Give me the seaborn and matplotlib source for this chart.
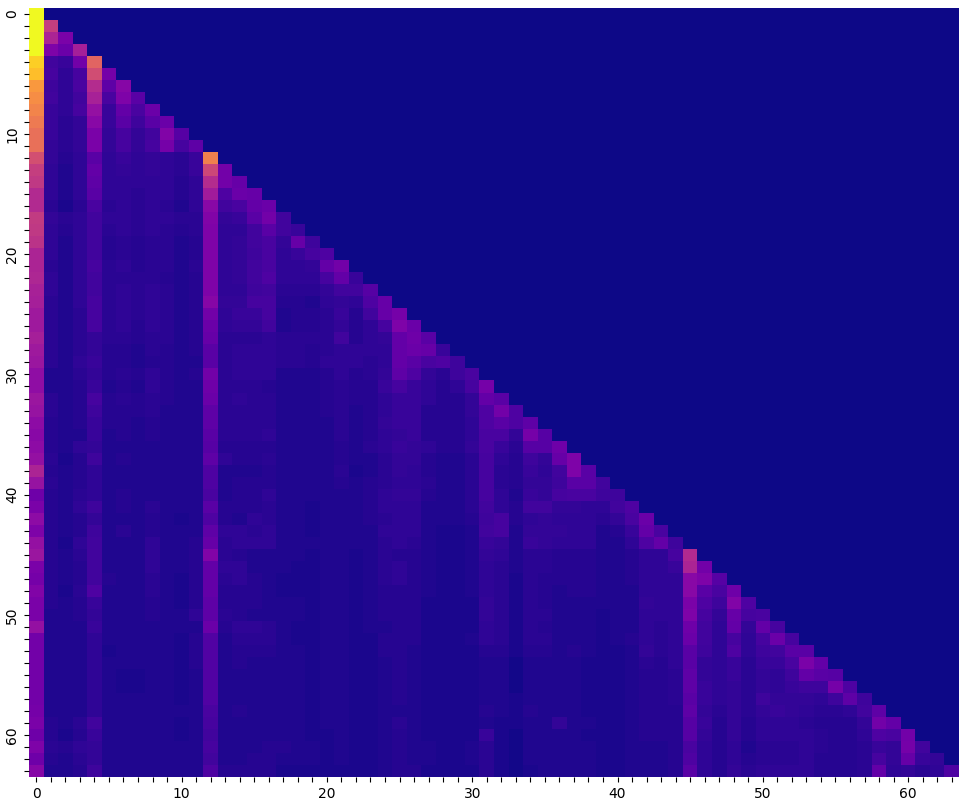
#!/usr/bin/env python3

import numpy as np
import matplotlib
matplotlib.use('Agg')
import matplotlib.pyplot as plt
import seaborn as sns

SIZE = 64

# columns 0-19, one list per row (rows stop at the diagonal)
left_block = [
    [100],
    [100, 47],
    [100, 38, 24],
    [100, 25, 20, 36],
    [90, 10, 8, 22, 60],
    [86, 11, 6, 11, 52, 23],
    [76, 9, 6, 12, 41, 17, 27],
    [73, 10, 6, 10, 37, 12, 25, 16],
    [70, 8, 6, 11, 31, 8, 18, 12, 20],
    [67, 8, 5, 7, 28, 8, 16, 9, 16, 20],
    [64, 8, 5, 7, 24, 7, 11, 7, 10, 26, 15],
    [64, 7, 5, 7, 24, 7, 11, 7, 11, 23, 11, 17],
    [53, 7, 4, 6, 16, 6, 8, 6, 7, 6, 5, 8, 69],
    [47, 6, 3, 6, 18, 6, 7, 6, 7, 6, 5, 8, 50, 22],
    [45, 6, 3, 6, 17, 6, 6, 6, 6, 6, 4, 6, 41, 22, 19],
    [40, 6, 3, 6, 16, 6, 6, 5, 6, 6, 4, 6, 35, 13, 20, 19],
    [40, 5, 2, 5, 12, 5, 6, 5, 6, 5, 3, 6, 28, 10, 12, 18, 20],
    [46, 7, 5, 6, 10, 6, 6, 5, 6, 6, 5, 5, 26, 7, 8, 16, 22, 10],
    [45, 6, 4, 6, 10, 5, 6, 5, 6, 5, 4, 5, 25, 6, 6, 10, 16, 10, 8],
    [43, 6, 3, 6, 10, 4, 5, 4, 5, 5, 3, 4, 25, 6, 7, 10, 12, 7, 19, 9],
    [38, 6, 3, 6, 10, 4, 5, 4, 5, 5, 3, 4, 25, 6, 7, 9, 12, 6, 8, 11],
    [38, 5, 3, 6, 11, 5, 6, 4, 5, 5, 3, 5, 25, 6, 7, 10, 12, 6, 6, 7],
    [39, 6, 3, 6, 10, 5, 5, 5, 5, 4, 3, 4, 25, 6, 7, 10, 13, 6, 6, 6],
    [37, 6, 3, 6, 10, 5, 6, 5, 6, 5, 3, 4, 25, 6, 6, 9, 10, 5, 5, 5],
    [36, 5, 3, 6, 11, 5, 6, 5, 6, 5, 3, 4, 27, 7, 7, 11, 11, 4, 4, 3],
    [34, 5, 3, 5, 11, 5, 6, 5, 6, 5, 3, 4, 22, 6, 8, 8, 11, 3, 4, 4],
    [34, 5, 3, 5, 11, 5, 6, 4, 6, 5, 3, 4, 20, 6, 7, 7, 10, 3, 4, 4],
    [36, 5, 3, 5, 7, 5, 5, 4, 5, 5, 3, 4, 19, 5, 5, 5, 6, 5, 5, 5],
    [34, 5, 3, 5, 7, 4, 4, 3, 5, 4, 3, 4, 16, 5, 6, 6, 6, 5, 5, 4],
    [33, 5, 3, 6, 8, 4, 4, 3, 4, 4, 3, 3, 16, 5, 6, 6, 6, 5, 5, 4],
    [30, 3, 3, 5, 7, 4, 5, 4, 6, 4, 3, 4, 22, 5, 6, 6, 6, 3, 3, 3],
    [30, 3, 3, 4, 8, 3, 4, 3, 6, 4, 3, 3, 21, 5, 5, 5, 4, 3, 3, 3],
    [33, 5, 3, 4, 11, 4, 5, 4, 5, 4, 3, 3, 20, 5, 6, 5, 5, 3, 3, 3],
    [32, 5, 3, 4, 9, 4, 4, 4, 5, 3, 3, 3, 17, 5, 5, 5, 5, 3, 3, 3],
    [29, 4, 3, 4, 8, 4, 4, 3, 4, 3, 3, 3, 17, 5, 5, 5, 5, 3, 3, 3],
    [28, 4, 3, 3, 8, 3, 4, 3, 4, 3, 3, 3, 16, 5, 5, 5, 6, 3, 3, 3],
    [29, 4, 3, 6, 7, 3, 3, 3, 3, 3, 3, 3, 15, 4, 4, 4, 4, 3, 3, 3],
    [31, 5, 2, 4, 9, 3, 4, 3, 3, 3, 3, 3, 17, 6, 4, 4, 5, 3, 3, 3],
    [38, 4, 3, 4, 6, 3, 3, 3, 3, 3, 3, 3, 13, 3, 3, 3, 4, 3, 3, 3],
    [32, 5, 3, 4, 6, 3, 3, 3, 3, 3, 3, 3, 13, 3, 4, 4, 4, 3, 3, 3],
    [21, 4, 3, 5, 6, 3, 4, 3, 3, 3, 3, 3, 12, 3, 4, 4, 6, 3, 3, 3],
    [24, 4, 3, 6, 9, 3, 4, 3, 5, 3, 3, 3, 16, 4, 4, 4, 5, 3, 3, 2],
    [29, 4, 3, 4, 7, 3, 3, 3, 4, 3, 2, 3, 13, 4, 3, 6, 5, 3, 3, 2],
    [25, 4, 3, 4, 9, 3, 5, 3, 4, 3, 3, 3, 17, 6, 6, 5, 6, 3, 3, 2],
    [31, 4, 2, 6, 10, 3, 3, 3, 6, 3, 3, 4, 19, 5, 6, 6, 6, 3, 3, 3],
    [33, 4, 3, 5, 10, 3, 3, 3, 6, 3, 3, 4, 26, 5, 4, 3, 3, 3, 3, 2],
    [24, 4, 3, 4, 10, 3, 3, 3, 6, 3, 3, 4, 18, 6, 6, 3, 3, 3, 2, 2],
    [23, 4, 3, 4, 10, 4, 3, 3, 5, 3, 2, 4, 18, 5, 6, 4, 3, 2, 2, 2],
    [26, 4, 2, 5, 13, 3, 3, 3, 5, 3, 2, 4, 18, 4, 4, 4, 3, 2, 2, 2],
    [24, 4, 3, 4, 8, 3, 3, 3, 4, 3, 2, 4, 17, 4, 4, 4, 3, 3, 3, 2],
    [24, 3, 3, 4, 7, 3, 3, 3, 4, 3, 3, 6, 17, 5, 4, 3, 3, 3, 3, 2],
    [31, 3, 3, 3, 8, 3, 3, 3, 3, 3, 3, 3, 20, 4, 6, 6, 5, 3, 2, 2],
    [22, 3, 3, 3, 6, 3, 3, 3, 3, 3, 2, 4, 14, 3, 5, 5, 5, 3, 2, 2],
    [22, 3, 3, 3, 6, 2, 3, 3, 3, 3, 2, 4, 14, 3, 4, 4, 4, 3, 3, 2],
    [22, 3, 3, 3, 6, 3, 3, 3, 3, 3, 2, 4, 14, 3, 4, 3, 3, 3, 3, 2],
    [22, 3, 3, 3, 6, 3, 2, 2, 3, 3, 2, 3, 14, 3, 3, 3, 3, 3, 3, 2],
    [22, 3, 3, 3, 6, 3, 2, 2, 3, 3, 2, 3, 14, 3, 3, 3, 3, 3, 3, 2],
    [22, 3, 3, 3, 6, 3, 3, 3, 3, 3, 2, 3, 14, 3, 3, 3, 3, 3, 3, 2],
    [23, 3, 3, 3, 6, 3, 3, 3, 3, 3, 3, 3, 12, 3, 4, 3, 3, 3, 3, 2],
    [24, 4, 3, 5, 10, 3, 3, 3, 3, 3, 2, 3, 11, 3, 3, 3, 3, 3, 3, 2],
    [21, 4, 2, 4, 8, 3, 3, 3, 3, 3, 2, 3, 10, 3, 3, 3, 3, 3, 3, 2],
    [25, 5, 4, 6, 7, 3, 3, 3, 3, 3, 3, 3, 11, 3, 3, 3, 4, 4, 3, 3],
    [21, 4, 3, 5, 7, 3, 3, 3, 3, 3, 3, 3, 10, 3, 3, 4, 4, 3, 3, 3],
    [27, 3, 3, 4, 9, 3, 3, 3, 3, 3, 3, 3, 13, 4, 4, 4, 4, 2, 2, 2],
]

# columns 20-41 for rows 20-63
mid_block = [
    [13],
    [18, 22],
    [11, 18, 8],
    [7, 10, 10, 15],
    [6, 7, 6, 13, 19],
    [5, 8, 4, 10, 19, 23],
    [5, 7, 4, 6, 11, 25, 20],
    [5, 10, 4, 6, 7, 18, 21, 16],
    [5, 6, 6, 6, 6, 18, 20, 19, 8],
    [6, 6, 6, 5, 6, 18, 16, 12, 13, 9],
    [4, 6, 4, 5, 7, 17, 13, 7, 5, 9, 12],
    [4, 5, 4, 4, 8, 11, 8, 6, 4, 6, 11, 23],
    [4, 5, 4, 4, 6, 8, 8, 6, 4, 4, 7, 18, 16],
    [4, 5, 3, 4, 6, 8, 8, 4, 4, 4, 7, 13, 22, 13],
    [3, 5, 3, 4, 7, 8, 8, 4, 4, 4, 6, 13, 16, 13, 17],
    [3, 5, 3, 4, 6, 7, 8, 4, 4, 4, 6, 12, 12, 7, 23, 15],
    [3, 4, 3, 5, 6, 8, 7, 6, 4, 4, 7, 12, 8, 5, 15, 15, 21],
    [3, 4, 3, 3, 5, 7, 7, 4, 3, 3, 5, 11, 6, 4, 9, 7, 19, 25],
    [3, 5, 2, 3, 5, 7, 6, 4, 3, 3, 5, 11, 5, 4, 8, 6, 10, 25, 16],
    [3, 4, 3, 4, 5, 6, 6, 5, 3, 3, 5, 11, 5, 4, 7, 7, 9, 16, 16, 10],
    [3, 3, 3, 4, 6, 7, 7, 4, 3, 3, 5, 11, 6, 3, 8, 7, 11, 12, 12, 9, 9],
    [3, 3, 3, 4, 6, 6, 6, 3, 3, 3, 5, 10, 6, 4, 10, 10, 7, 7, 6, 6, 10, 13],
    [3, 3, 3, 4, 5, 6, 6, 3, 3, 3, 4, 9, 11, 4, 6, 7, 6, 6, 6, 5, 7, 12],
    [3, 3, 3, 3, 6, 6, 6, 3, 2, 2, 3, 10, 11, 3, 7, 7, 7, 6, 6, 3, 4, 8],
    [3, 3, 3, 3, 5, 6, 5, 3, 2, 2, 3, 8, 7, 3, 8, 7, 6, 6, 6, 3, 3, 6],
    [3, 3, 2, 3, 5, 4, 4, 3, 2, 2, 3, 7, 6, 3, 5, 5, 4, 4, 4, 3, 3, 4],
    [3, 3, 2, 3, 5, 6, 4, 3, 2, 2, 3, 6, 5, 3, 5, 5, 4, 4, 4, 3, 3, 4],
    [3, 3, 2, 3, 5, 6, 4, 3, 2, 2, 3, 6, 5, 2, 5, 4, 4, 4, 4, 3, 3, 4],
    [3, 3, 2, 3, 4, 4, 4, 3, 2, 2, 3, 6, 5, 2, 5, 4, 3, 4, 4, 3, 3, 3],
    [3, 3, 2, 3, 4, 4, 4, 2, 2, 2, 2, 7, 5, 2, 5, 4, 3, 3, 3, 3, 3, 3],
    [3, 3, 2, 3, 4, 4, 4, 2, 2, 2, 2, 7, 5, 2, 5, 5, 3, 3, 3, 2, 3, 3],
    [3, 3, 2, 3, 3, 4, 4, 2, 2, 2, 2, 6, 5, 2, 5, 4, 3, 3, 3, 2, 3, 3],
    [3, 3, 2, 2, 4, 4, 4, 2, 2, 2, 3, 6, 5, 2, 5, 5, 3, 3, 3, 2, 3, 4],
    [3, 3, 2, 2, 4, 4, 3, 2, 2, 2, 2, 4, 4, 2, 4, 4, 3, 4, 3, 2, 2, 3],
    [3, 3, 2, 2, 3, 4, 3, 2, 2, 2, 2, 3, 3, 1, 3, 3, 3, 3, 2, 2, 2, 3],
    [3, 3, 2, 2, 3, 4, 3, 2, 2, 2, 2, 3, 3, 1, 3, 3, 3, 3, 2, 2, 2, 3],
    [3, 3, 2, 2, 3, 4, 3, 2, 2, 2, 2, 3, 3, 1, 3, 3, 3, 3, 2, 2, 2, 3],
    [3, 3, 2, 2, 3, 4, 3, 2, 2, 2, 2, 3, 3, 2, 3, 3, 3, 3, 2, 2, 2, 3],
    [3, 3, 2, 2, 3, 3, 3, 2, 2, 2, 2, 4, 3, 2, 4, 3, 3, 3, 2, 2, 2, 3],
    [3, 3, 2, 2, 3, 5, 3, 2, 2, 2, 2, 3, 2, 2, 3, 3, 7, 3, 3, 2, 2, 3],
    [2, 3, 2, 2, 3, 4, 3, 2, 2, 2, 2, 8, 2, 1, 3, 3, 3, 3, 2, 2, 2, 3],
    [2, 3, 2, 2, 3, 4, 3, 3, 2, 2, 3, 5, 2, 1, 3, 3, 3, 3, 3, 2, 2, 3],
    [2, 3, 2, 2, 3, 4, 3, 3, 2, 2, 3, 5, 2, 1, 3, 3, 3, 3, 3, 2, 2, 3],
    [2, 2, 2, 2, 3, 4, 4, 2, 2, 2, 2, 5, 2, 1, 2, 3, 3, 3, 3, 2, 2, 3],
]

# columns 42-63 for rows 42-63
right_block = [
    [20],
    [18, 12],
    [13, 18, 9],
    [6, 6, 11, 40],
    [6, 6, 8, 38, 22],
    [6, 6, 6, 28, 25, 15],
    [6, 6, 6, 28, 16, 12, 21],
    [7, 6, 6, 24, 13, 9, 26, 13],
    [6, 6, 6, 25, 11, 7, 19, 11, 12],
    [6, 5, 6, 21, 10, 6, 18, 7, 18, 11],
    [6, 5, 6, 20, 10, 6, 11, 6, 11, 20, 11],
    [7, 5, 6, 16, 9, 6, 13, 6, 9, 10, 16, 16],
    [5, 4, 6, 16, 7, 6, 8, 5, 8, 8, 12, 24, 18],
    [4, 4, 5, 17, 7, 6, 8, 5, 7, 6, 9, 18, 16, 15],
    [4, 4, 5, 17, 8, 6, 7, 5, 7, 6, 8, 9, 9, 23, 13],
    [4, 4, 5, 16, 8, 6, 7, 5, 9, 7, 7, 7, 6, 9, 17, 9],
    [4, 4, 4, 17, 7, 5, 7, 5, 7, 8, 7, 6, 5, 5, 6, 10, 17],
    [4, 4, 4, 15, 8, 4, 7, 4, 6, 6, 6, 5, 4, 4, 4, 7, 22, 18],
    [4, 4, 4, 15, 7, 4, 7, 4, 6, 6, 6, 6, 5, 4, 4, 6, 13, 12, 22],
    [3, 3, 4, 12, 6, 4, 6, 3, 5, 5, 5, 6, 5, 4, 4, 5, 8, 7, 23, 10],
    [3, 3, 4, 13, 6, 4, 6, 4, 5, 5, 5, 6, 4, 4, 4, 5, 11, 7, 19, 8, 7],
    [3, 3, 4, 16, 6, 4, 7, 5, 6, 6, 6, 6, 4, 4, 4, 5, 18, 6, 7, 5, 6, 13],
]

tick_labels = [str(i) if i % 10 == 0 else '' for i in range(SIZE)]

matrix = np.zeros((SIZE, SIZE))
for r, row in enumerate(left_block):
    matrix[r, :len(row)] = row
for r, row in enumerate(mid_block):
    matrix[r + 20, 20:20 + len(row)] = row
for r, row in enumerate(right_block):
    matrix[r + 42, 42:42 + len(row)] = row

fig = plt.figure(figsize=(9.66, 8.1), dpi=100)
ax = fig.add_axes([29 / 966, 1 - 777 / 810, 930 / 966, 769 / 810])

sns.heatmap(matrix, cmap='plasma', vmin=0, vmax=100, cbar=False, ax=ax,
            xticklabels=tick_labels, yticklabels=tick_labels)
ax.tick_params(axis='x', labelrotation=0)
ax.tick_params(axis='y', labelrotation=90)
plt.setp(ax.get_yticklabels(), va='center')

fig.savefig('out.png', dpi=100)
